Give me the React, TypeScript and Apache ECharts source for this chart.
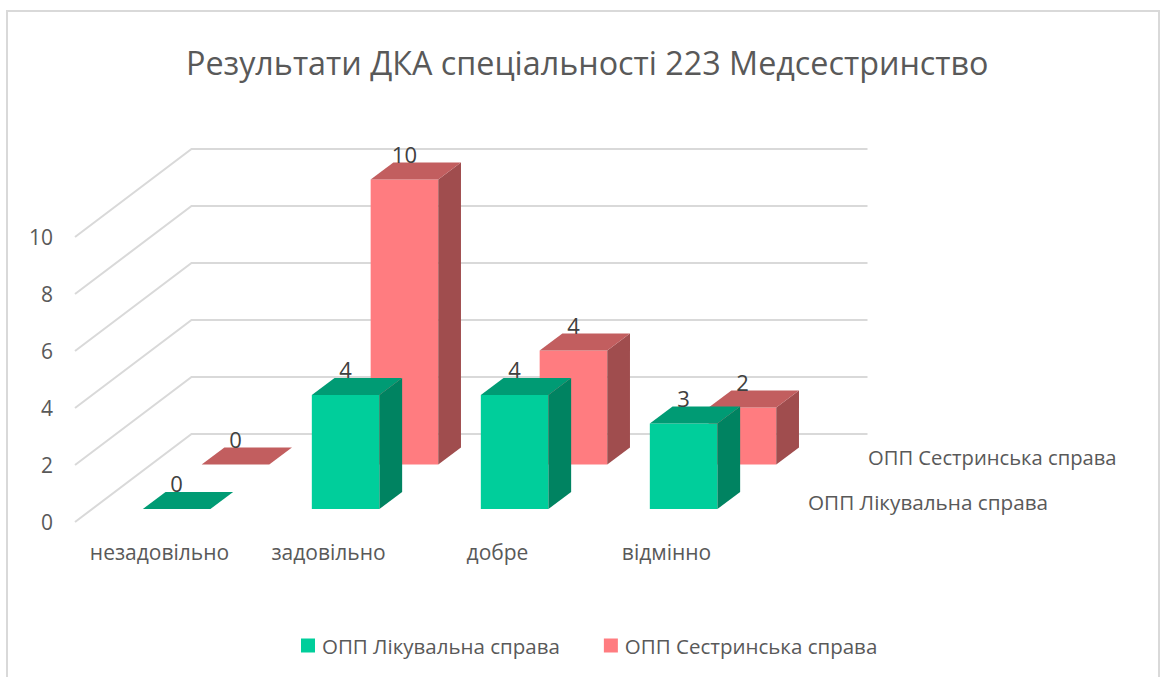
import React, { useEffect, useRef } from "react";
import * as echarts from "echarts";

const titleText = "Результати ДКА спеціальності 223 Медсестринство";
const categories = ["незадовільно", "задовільно", "добре", "відмінно"];
const seriesNames = ["ОПП Лікувальна справа", "ОПП Сестринська справа"];
const medicalValues = [0, 4, 4, 3];
const nursingValues = [0, 10, 4, 2];
const wallTicks = [0, 2, 4, 6, 8, 10];

const FONT = '"Open Sans", sans-serif';
const DEPTH_X = 116.5;
const DEPTH_Y = 88;
const BOX_DEPTH = 0.195;
const BAR_BAND = 0.4;

type Palette = { front: string; top: string; side: string };
const greenPalette: Palette = { front: "#00CE9B", top: "#009B74", side: "#008361" };
const pinkPalette: Palette = { front: "#FF7C80", top: "#C25E5F", side: "#A04D4E" };

function boxSeries(name: string, values: number[], depth: number, pal: Palette) {
  return {
    type: "custom",
    name,
    silent: true,
    clip: false,
    itemStyle: { color: pal.front },
    data: values.map((v, i) => [i, v]),
    encode: { x: 0, y: 1 },
    renderItem: (_p: any, api: any) => {
      const cat = api.value(0);
      const val = api.value(1);
      const w = api.size([1, 0])[0] * BAR_BAND;
      const ox = depth * DEPTH_X;
      const oy = -depth * DEPTH_Y;
      const dx = BOX_DEPTH * DEPTH_X;
      const dy = -BOX_DEPTH * DEPTH_Y;
      const base = api.coord([cat, 0]);
      const head = api.coord([cat, val]);
      const l = base[0] - w / 2 + ox;
      const r = l + w;
      const b = base[1] + oy;
      const t = head[1] + oy;
      const children: any[] = [];
      if (val > 0) {
        children.push({ type: "rect", shape: { x: l, y: t, width: w, height: b - t }, style: { fill: pal.front } });
        children.push({
          type: "polygon",
          shape: { points: [[r, t], [r + dx, t + dy], [r + dx, b + dy], [r, b]] },
          style: { fill: pal.side },
        });
      }
      children.push({
        type: "polygon",
        shape: { points: [[l, t], [l + dx, t + dy], [r + dx, t + dy], [r, t]] },
        style: { fill: pal.top },
      });
      children.push({
        type: "text",
        style: {
          text: String(val),
          x: (l + r) / 2,
          y: t - 26,
          align: "center",
          verticalAlign: "middle",
          fill: "#404040",
          fontSize: 22,
          fontFamily: FONT,
        },
      });
      return { type: "group", children };
    },
  };
}

export default function App() {
  const ref = useRef<HTMLDivElement>(null);
  useEffect(() => {
    document.body.style.margin = "0";
    const chart = echarts.init(ref.current!, null, { renderer: "svg" });
    chart.setOption({
      animation: false,
      backgroundColor: "#ffffff",
      title: {
        text: titleText,
        left: 181,
        top: 41,
        textStyle: { color: "#595959", fontSize: 32.3, fontWeight: "normal", fontFamily: FONT },
      },
      legend: {
        left: 296,
        top: 630,
        icon: "rect",
        itemWidth: 14,
        itemHeight: 14,
        itemGap: 44,
        selectedMode: false,
        textStyle: { color: "#595959", fontSize: 20.5, fontFamily: FONT, padding: [0, 0, 0, 2] },
        data: seriesNames,
      },
      grid: { left: 75, top: 237, width: 676, height: 285 },
      xAxis: {
        type: "category",
        data: categories,
        axisLine: { show: false },
        axisTick: { show: false },
        axisLabel: { color: "#595959", fontSize: 21, fontFamily: FONT, margin: 19, interval: 0, hideOverlap: false },
      },
      yAxis: {
        type: "value",
        min: 0,
        max: 10,
        interval: 2,
        axisLine: { show: false },
        axisTick: { show: false },
        splitLine: { show: false },
        axisLabel: { color: "#595959", fontSize: 21, fontFamily: FONT, margin: 22 },
      },
      graphic: [
        {
          type: "polyline",
          silent: true,
          shape: { points: [[7, 700], [7, 11], [1159, 11], [1159, 700]] },
          style: { stroke: "#D9D9D9", lineWidth: 2, fill: "none" },
        },
        {
          type: "text",
          silent: true,
          x: 868,
          y: 457,
          style: { text: seriesNames[1], fill: "#595959", fontSize: 20.2, fontFamily: FONT, verticalAlign: "middle" },
        },
        {
          type: "text",
          silent: true,
          x: 808,
          y: 502,
          style: { text: seriesNames[0], fill: "#595959", fontSize: 20.7, fontFamily: FONT, verticalAlign: "middle" },
        },
      ],
      series: [
        {
          type: "custom",
          silent: true,
          clip: false,
          data: wallTicks.map((v) => [0, v]),
          encode: { x: 0, y: 1 },
          z: 1,
          renderItem: (p: any, api: any) => {
            const y = api.coord([0, api.value(1)])[1];
            const x0 = p.coordSys.x;
            const x1 = x0 + DEPTH_X;
            const y1 = y - DEPTH_Y;
            return {
              type: "polyline",
              shape: { points: [[x0, y], [x1, y1], [x1 + p.coordSys.width, y1]] },
              style: { stroke: "#D9D9D9", lineWidth: 2, fill: "none" },
            };
          },
        },
        { ...boxSeries(seriesNames[1], nursingValues, 0.652, pinkPalette), z: 2 },
        { ...boxSeries(seriesNames[0], medicalValues, 0.147, greenPalette), z: 3 },
      ],
    });
    return () => chart.dispose();
  }, []);
  return <div ref={ref} style={{ width: 1166, height: 677 }} />;
}
